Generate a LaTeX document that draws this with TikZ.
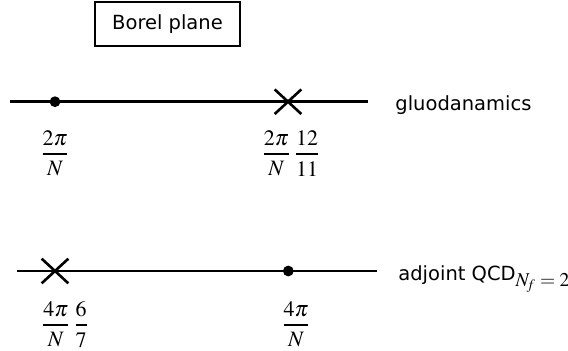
\documentclass[tikz,border=0pt]{standalone}
\usepackage{mathptmx}
\usepackage{amsmath}
\usepackage[no-math]{fontspec}
\setmainfont{DejaVu Sans}
\usetikzlibrary{shapes.misc}

\newcommand{\fr}[2]{\genfrac{}{}{1pt}{0}{#1}{#2}}

\begin{document}
\begin{tikzpicture}[x=0.5pt, y=0.5pt,
    axis/.style={line width=1.3pt},
    pole/.style={circle, fill, inner sep=0pt, minimum size=5.4pt},
    zero/.style={cross out, draw, line width=1.3pt, inner sep=0pt,
      minimum width=12pt, minimum height=11pt},
    lbl/.style={font=\fontsize{9.75}{12}\selectfont, inner sep=0pt},
    val/.style={font=\fontsize{11}{13}\selectfont, inner sep=0pt}]
  \useasboundingbox (0,0) rectangle (568,350);
  % title box
  \node[lbl, draw, line width=0.8pt, minimum width=72.5pt, minimum height=22pt] (title) at (167.5,326) {Borel plane};
  % gluodynamics line
  \coordinate (g-start) at (10,248.3);
  \coordinate (g-end) at (368,248.3);
  \draw[axis] (g-start) -- (g-end);
  \node[pole] (g-pole) at (55,248.3) {};
  \node[zero] (g-zero) at (288,248.3) {};
  \node[lbl, anchor=base west] (g-name) at (395,240) {gluodanamics};
  \node[val] (g-pole-val) at (55,196.8) {$\fr{2\pi}{N}$};
  \node[val] (g-zero-val) at (291,196.8) {$\fr{2\pi}{N}\,\fr{12}{11}$};
  % adjoint QCD line
  \coordinate (a-start) at (16.7,79);
  \coordinate (a-end) at (376.7,79);
  \draw[axis] (a-start) -- (a-end);
  \node[zero] (a-zero) at (55,79) {};
  \node[pole] (a-pole) at (288.3,79) {};
  \node[lbl, anchor=base west] (a-name) at (398,70) {adjoint QCD$_{\textstyle N_{\!f}=2}$};
  \node[val] (a-zero-val) at (65,25.8) {$\fr{4\pi}{N}\,\fr{6}{7}$};
  \node[val] (a-pole-val) at (296,25.8) {$\fr{4\pi}{N}$};
\end{tikzpicture}
\end{document}
